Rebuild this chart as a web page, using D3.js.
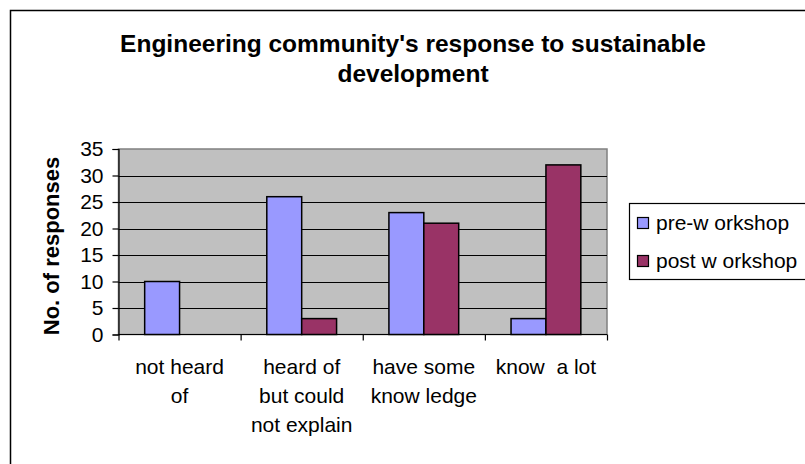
<!DOCTYPE html>
<html>
<head>
<meta charset="utf-8">
<script src="https://cdn.jsdelivr.net/npm/d3@7"></script>
<style>
  body { margin: 0; background: #fff; }
  text { font-family: "Liberation Sans", Arial, sans-serif; white-space: pre; }
</style>
</head>
<body>
<svg id="chart" width="805" height="464"></svg>
<script>
// ---- data ----
const categories = [
  ["not heard", "of"],
  ["heard of", "but could", "not explain"],
  ["have some", "know ledge"],
  ["know  a lot"]
];
const seriesNames = ["pre-w orkshop", "post w orkshop"];
const preWorkshop = [10, 26, 23, 3];
const postWorkshop = [0, 3, 21, 32];
const yTicks = [0, 5, 10, 15, 20, 25, 30, 35];
const colors = ["#9999FF", "#993366"];

const svg = d3.select("#chart");

// chart border (runs off the right and bottom of the picture)
svg.append("rect")
  .attr("x", 10.5).attr("y", 10.5)
  .attr("width", 820).attr("height", 470)
  .attr("fill", "#fff").attr("stroke", "#000").attr("stroke-width", 1.5);

// title
svg.append("text")
  .attr("x", 413).attr("y", 52)
  .attr("text-anchor", "middle")
  .attr("font-size", 24.5).attr("font-weight", "bold")
  .text("Engineering community's response to sustainable");
svg.append("text")
  .attr("x", 413).attr("y", 82)
  .attr("text-anchor", "middle")
  .attr("font-size", 24.5).attr("font-weight", "bold")
  .text("development");

const plot = { left: 118.5, top: 149, right: 607, bottom: 334.5 };

const x = d3.scaleBand()
  .domain(d3.range(categories.length))
  .range([plot.left, plot.right])
  .paddingInner(0).paddingOuter(0);

const y = d3.scaleLinear()
  .domain([0, 35])
  .range([plot.bottom, plot.top]);

// Excel-style gap width 150%
const barW = x.bandwidth() / 3.5;
const gap = (x.bandwidth() - 2 * barW) / 2;

// plot area
svg.append("rect")
  .attr("x", plot.left).attr("y", plot.top)
  .attr("width", plot.right - plot.left).attr("height", plot.bottom - plot.top)
  .attr("fill", "#C0C0C0").attr("stroke", "#808080").attr("stroke-width", 1.5);

// gridlines
svg.append("g")
  .selectAll("line")
  .data(yTicks.filter(d => d > 0 && d < 35))
  .join("line")
  .attr("x1", plot.left).attr("x2", plot.right)
  .attr("y1", d => Math.round(y(d)) + 0.5).attr("y2", d => Math.round(y(d)) + 0.5)
  .attr("stroke", "#000").attr("stroke-width", 1.2);

// bars
const series = [preWorkshop, postWorkshop];
series.forEach((vals, si) => {
  svg.append("g")
    .selectAll("rect")
    .data(vals.map((v, i) => ({ i, v })).filter(d => d.v > 0))
    .join("rect")
    .attr("x", d => x(d.i) + gap + si * barW)
    .attr("y", d => y(d.v))
    .attr("width", barW)
    .attr("height", d => y(0) - y(d.v))
    .attr("fill", colors[si])
    .attr("stroke", "#000").attr("stroke-width", 1.5);
});

// y axis
const yAxis = svg.append("g")
  .attr("transform", `translate(${plot.left},0)`)
  .call(d3.axisLeft(y).tickValues(yTicks).tickSize(6).tickPadding(9));
yAxis.select(".domain").attr("stroke", "#000").attr("stroke-width", 1.2);
yAxis.selectAll(".tick line").attr("stroke", "#000").attr("stroke-width", 1.2);
yAxis.selectAll(".tick text")
  .attr("font-size", 21).attr("fill", "#000")
  .attr("font-family", "'Liberation Sans', Arial, sans-serif");

// x axis
const xAxis = svg.append("g")
  .attr("transform", `translate(0,${plot.bottom})`)
  .call(d3.axisBottom(d3.scaleLinear().domain([0, 4]).range([plot.left, plot.right]))
    .tickValues([0, 1, 2, 3, 4]).tickSize(6).tickFormat(""));
xAxis.select(".domain").remove();
xAxis.append("line")
  .attr("x1", plot.left).attr("x2", plot.right)
  .attr("stroke", "#000").attr("stroke-width", 1.2);
xAxis.selectAll(".tick line").attr("stroke", "#000").attr("stroke-width", 1.2);

// category labels
const catG = svg.append("g");
categories.forEach((lines, i) => {
  const t = catG.append("text")
    .attr("text-anchor", "middle")
    .attr("font-size", 21)
    .attr("fill", "#000");
  lines.forEach((ln, j) => {
    t.append("tspan")
      .attr("x", x(i) + x.bandwidth() / 2)
      .attr("y", 374 + j * 29)
      .text(ln);
  });
});

// y axis title
svg.append("text")
  .attr("transform", "translate(59,246) rotate(-90)")
  .attr("text-anchor", "middle")
  .attr("font-size", 22).attr("font-weight", "bold")
  .text("No. of responses");

// legend
const legend = svg.append("g");
legend.append("rect")
  .attr("x", 629.5).attr("y", 203.5)
  .attr("width", 200).attr("height", 76)
  .attr("fill", "#fff").attr("stroke", "#000").attr("stroke-width", 1.2);
seriesNames.forEach((name, i) => {
  const cy = 223 + i * 38;
  legend.append("rect")
    .attr("x", 637.5).attr("y", cy - 5.5)
    .attr("width", 11).attr("height", 11)
    .attr("fill", colors[i]).attr("stroke", "#000").attr("stroke-width", 1.2);
  legend.append("text")
    .attr("x", 656).attr("y", cy + 7)
    .attr("font-size", 21)
    .text(name);
});
</script>
</body>
</html>
